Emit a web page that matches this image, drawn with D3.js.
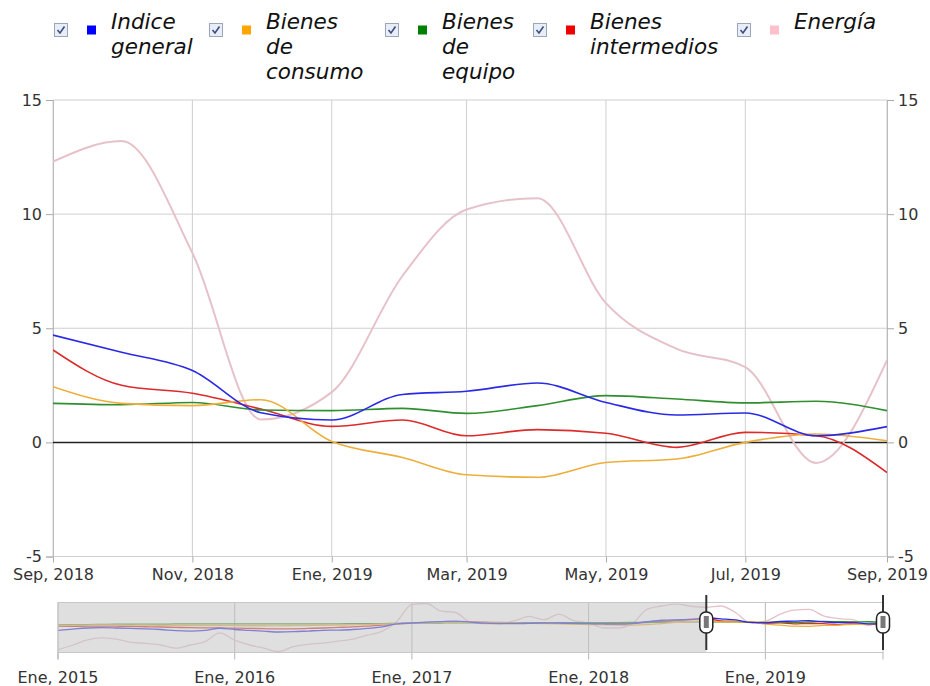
<!DOCTYPE html>
<html><head><meta charset="utf-8">
<script src="https://cdn.jsdelivr.net/npm/d3@7"></script>
<style>
body{margin:0;background:#fff;}
text{font-family:"DejaVu Sans",Verdana,sans-serif;}
</style>
</head><body>
<svg id="chart" width="930" height="686"></svg>
<script>
// ---------- DATA ----------
const months = [
 "2015-01","2015-02","2015-03","2015-04","2015-05","2015-06","2015-07","2015-08","2015-09","2015-10","2015-11","2015-12",
 "2016-01","2016-02","2016-03","2016-04","2016-05","2016-06","2016-07","2016-08","2016-09","2016-10","2016-11","2016-12",
 "2017-01","2017-02","2017-03","2017-04","2017-05","2017-06","2017-07","2017-08","2017-09","2017-10","2017-11","2017-12",
 "2018-01","2018-02","2018-03","2018-04","2018-05","2018-06","2018-07","2018-08","2018-09","2018-10","2018-11","2018-12",
 "2019-01","2019-02","2019-03","2019-04","2019-05","2019-06","2019-07","2019-08","2019-09"];

const seriesNames = ["Indice general","Bienes de consumo","Bienes de equipo","Bienes intermedios","Energía"];
const legendLines = [["Indice","general"],["Bienes","de","consumo"],["Bienes","de","equipo"],["Bienes","intermedios"],["Energía"]];
const seriesColors = ["#0000ff","#ffa500","#008000","#ee0000","#ffc0cb"];
const lineColors = ["#2a2ae6","#eeae3c","#2f8f2f","#dd2a2a","#e6c2c8"];

const indiceGeneral = [
 -4.4,-3.5,-2.7,-2.5,-2.7,-3.0,-3.3,-3.8,-4.6,-4.9,-4.4,-2.9,
 -3.8,-4.4,-5.0,-5.6,-5.4,-4.9,-4.4,-4.2,-3.8,-3.0,-1.9,0.2,
 0.9,1.5,1.9,2.3,1.6,0.8,0.5,0.4,0.7,0.8,0.9,0.6,
 0.4,0.2,0.1,0.5,1.8,2.9,3.2,3.3,
 4.7,3.95,3.15,1.3,0.98,2.1,2.24,2.6,1.75,1.2,1.29,0.29,0.69];
const bienesConsumo = [
 -0.8,-0.7,-0.6,-0.5,-0.5,-0.6,-0.7,-0.8,-0.9,-1.0,-1.0,-0.9,
 -1.0,-1.1,-1.1,-1.2,-1.0,-0.9,-0.8,-0.6,-0.4,-0.2,0.1,0.5,
 0.9,1.2,1.4,1.5,1.3,1.1,0.9,0.8,0.6,0.4,0.2,0.0,
 -0.2,-0.4,-0.6,-0.6,-0.3,0.5,1.3,2.0,
 2.44,1.71,1.61,1.87,0.04,-0.66,-1.42,-1.53,-0.88,-0.73,0.0,0.37,0.07];
const bienesEquipo = [
 -0.4,-0.3,-0.2,-0.1,0.0,0.0,0.1,0.1,0.2,0.2,0.3,0.3,
 0.3,0.3,0.2,0.2,0.2,0.3,0.3,0.3,0.4,0.4,0.5,0.6,
 0.7,0.8,0.9,1.0,1.0,1.0,0.9,0.9,0.9,1.0,1.0,1.1,
 1.1,1.1,1.2,1.3,1.4,1.5,1.6,1.7,
 1.71,1.65,1.75,1.42,1.39,1.49,1.27,1.61,2.05,1.9,1.73,1.8,1.39];
const bienesIntermedios = [
 -1.4,-1.5,-1.4,-1.3,-1.4,-1.6,-1.8,-2.0,-2.3,-2.5,-2.6,-2.7,
 -2.8,-3.0,-3.2,-3.4,-3.3,-3.0,-2.7,-2.3,-1.9,-1.3,-0.6,0.2,
 0.9,1.3,1.6,1.8,1.7,1.5,1.3,1.2,1.2,1.1,1.0,0.9,
 0.8,0.7,0.6,0.8,1.2,1.8,2.8,3.6,
 4.05,2.5,2.15,1.46,0.7,0.98,0.29,0.56,0.4,-0.22,0.44,0.29,-1.32];
const energia = [
 -18.5,-15,-11.5,-9.8,-10.8,-13.1,-13.8,-15,-17.3,-15,-12.6,-6.3,
 -11.5,-15,-17.3,-19.7,-16.1,-14.5,-13.6,-12.2,-10.8,-7.9,-5.0,2.0,
 14.4,15.0,9.6,8.5,1.5,0.3,0.3,2.6,5.7,3.3,7.3,2.6,
 1.0,-2.7,-2.7,0.3,10.8,13.2,14.6,13.0,
 12.3,13.2,8.3,1.0,2.2,7.3,10.2,10.7,6.1,4.1,3.3,-0.9,3.6];

const seriesValues = [indiceGeneral,bienesConsumo,bienesEquipo,bienesIntermedios,energia];

const yTicks = [-5,0,5,10,15];
const mainTicks = ["2018-09","2018-11","2019-01","2019-03","2019-05","2019-07","2019-09"];
const navTicks = ["2015-01","2016-01","2017-01","2018-01","2019-01"];
const monthAbbr = ["Ene","Feb","Mar","Abr","May","Jun","Jul","Ago","Sep","Oct","Nov","Dic"];
const selStart = "2018-09", selEnd = "2019-09";

// ---------- HELPERS ----------
const parse = d3.timeParse("%Y-%m");
const fmt = d => monthAbbr[d.getMonth()] + ", " + d.getFullYear();
const dates = months.map(parse);
const series = seriesNames.map((n,i)=>({name:n,color:seriesColors[i],lineColor:lineColors[i],
  values: dates.map((d,j)=>({date:d,value:seriesValues[i][j]}))}));

const svg = d3.select("#chart");
const gridColor = "#cfcfcf";
const textColor = "#333";

// ---------- MAIN CHART ----------
const m = {left:53,right:887,top:100,bottom:556.5};
const x = d3.scaleTime().domain([parse(selStart),parse(selEnd)]).range([m.left,m.right]);
const y = d3.scaleLinear().domain([-5,15]).range([m.bottom,m.top]);

svg.append("g").selectAll("line").data(yTicks.filter(t=>t!==0)).join("line")
  .attr("x1",m.left).attr("x2",m.right).attr("y1",d=>y(d)).attr("y2",d=>y(d))
  .attr("stroke",gridColor).attr("stroke-width",1);
svg.append("g").selectAll("line").data(mainTicks.map(parse)).join("line")
  .attr("x1",d=>x(d)).attr("x2",d=>x(d)).attr("y1",m.top).attr("y2",m.bottom)
  .attr("stroke",gridColor).attr("stroke-width",1);

const yFmt = d => String(d);
const xAxis = d3.axisBottom(x).tickValues(mainTicks.map(parse)).tickFormat(fmt).tickSize(6).tickPadding(6);
const gx = svg.append("g").attr("transform",`translate(0,${m.bottom})`).call(xAxis);
const yAxisL = d3.axisLeft(y).tickValues(yTicks).tickFormat(yFmt).tickSize(7).tickPadding(4);
const gyl = svg.append("g").attr("transform",`translate(${m.left},0)`).call(yAxisL);
const yAxisR = d3.axisRight(y).tickValues(yTicks).tickFormat(yFmt).tickSize(7).tickPadding(4);
const gyr = svg.append("g").attr("transform",`translate(${m.right},0)`).call(yAxisR);
[gx,gyl,gyr].forEach(g=>{
  g.select(".domain").attr("stroke","#bbb");
  g.selectAll(".tick line").attr("stroke","#aaa");
  g.selectAll("text").attr("fill",textColor).style("font-size","16px").style("font-family","'DejaVu Sans',Verdana,sans-serif");
});
gx.select(".domain").remove();

svg.append("line").attr("x1",m.left).attr("x2",m.right).attr("y1",y(0)).attr("y2",y(0))
  .attr("stroke","#222").attr("stroke-width",1.5);

svg.append("clipPath").attr("id","mainclip").append("rect")
  .attr("x",m.left).attr("y",m.top-2).attr("width",m.right-m.left).attr("height",m.bottom-m.top+4);

const line = d3.line().x(d=>x(d.date)).y(d=>y(d.value)).curve(d3.curveMonotoneX);
const s0 = parse(selStart), s1 = parse(selEnd);
const drawOrder = [4,3,2,1,0];
svg.append("g").attr("clip-path","url(#mainclip)").selectAll("path")
  .data(drawOrder.map(i=>series[i])).join("path")
  .attr("d",s=>line(s.values.filter(v=>v.date>=s0 && v.date<=s1)))
  .attr("fill","none").attr("stroke",s=>s.lineColor).attr("stroke-width",s=>s.name==="Energía"?2:1.6);

// ---------- LEGEND ----------
const legendX = [54,209,385,533,737];
const lg = svg.append("g");
series.forEach((s,i)=>{
  const g = lg.append("g").attr("transform",`translate(${legendX[i]},23)`);
  g.append("rect").attr("x",0.5).attr("y",0.5).attr("width",13).attr("height",13)
    .attr("fill","#e9edf5").attr("stroke","#9ba6bd");
  g.append("path").attr("d","M3.5,7 L6,10 L10.5,3.5").attr("fill","none")
    .attr("stroke","#3b4f86").attr("stroke-width",1.6);
  g.append("rect").attr("x",33).attr("y",2.5).attr("width",9).attr("height",9).attr("fill",s.color);
  const t = g.append("text").attr("x",58).attr("y",5).attr("fill","#111")
    .style("font-size","21.5px").style("font-style","italic");
  legendLines[i].forEach((l,k)=>t.append("tspan").attr("x",57).attr("y",5.5+k*25).text(l));
});

// ---------- NAVIGATOR ----------
const n = {left:58,right:883,top:602.5,bottom:652.5};
const xN = d3.scaleTime().domain([dates[0],dates[dates.length-1]]).range([n.left,n.right]);
const allVals = seriesValues.flat();
const yN = d3.scaleLinear().domain(d3.extent(allVals)).range([n.bottom-1,n.top+1]);

svg.append("rect").attr("x",n.left).attr("y",n.top).attr("width",n.right-n.left).attr("height",n.bottom-n.top)
  .attr("fill","#fff");
svg.append("g").selectAll("line").data(navTicks.map(parse)).join("line")
  .attr("x1",d=>xN(d)).attr("x2",d=>xN(d)).attr("y1",n.top).attr("y2",n.bottom+7)
  .attr("stroke","#b5b5b5");
const lineN = d3.line().x(d=>xN(d.date)).y(d=>yN(d.value)).curve(d3.curveMonotoneX);
svg.append("g").selectAll("path").data(drawOrder.map(i=>series[i])).join("path")
  .attr("d",s=>lineN(s.values)).attr("fill","none").attr("stroke",s=>s.lineColor)
  .attr("stroke-width",1.3);
svg.append("rect").attr("x",n.left).attr("y",n.top).attr("width",xN(s0)-n.left).attr("height",n.bottom-n.top)
  .attr("fill","#c4c4c4").attr("fill-opacity",0.55);
svg.append("rect").attr("x",n.left).attr("y",n.top).attr("width",n.right-n.left).attr("height",n.bottom-n.top)
  .attr("fill","none").attr("stroke","#c8c8c8");
svg.append("g").selectAll("line").data([n.left, n.right]).join("line")
  .attr("x1",d=>d).attr("x2",d=>d).attr("y1",n.bottom).attr("y2",n.bottom+7).attr("stroke","#b5b5b5");
svg.append("g").selectAll("text").data(navTicks.map(parse)).join("text")
  .attr("x",d=>xN(d)).attr("y",683).attr("text-anchor","middle").attr("fill",textColor)
  .style("font-size","16px").text(fmt);

[s0,s1].forEach(d=>{
  const hx = xN(d);
  const h = svg.append("g");
  h.append("line").attr("x1",hx).attr("x2",hx).attr("y1",595).attr("y2",650).attr("stroke","#333").attr("stroke-width",2);
  h.append("rect").attr("x",hx-6.5).attr("y",612).attr("width",13).attr("height",21).attr("rx",6).attr("ry",6)
    .attr("fill","#fff").attr("stroke","#222").attr("stroke-width",1.5);
  h.append("rect").attr("x",hx-2.5).attr("y",616).attr("width",5).attr("height",12).attr("fill","#777");
});
</script>
</body></html>
